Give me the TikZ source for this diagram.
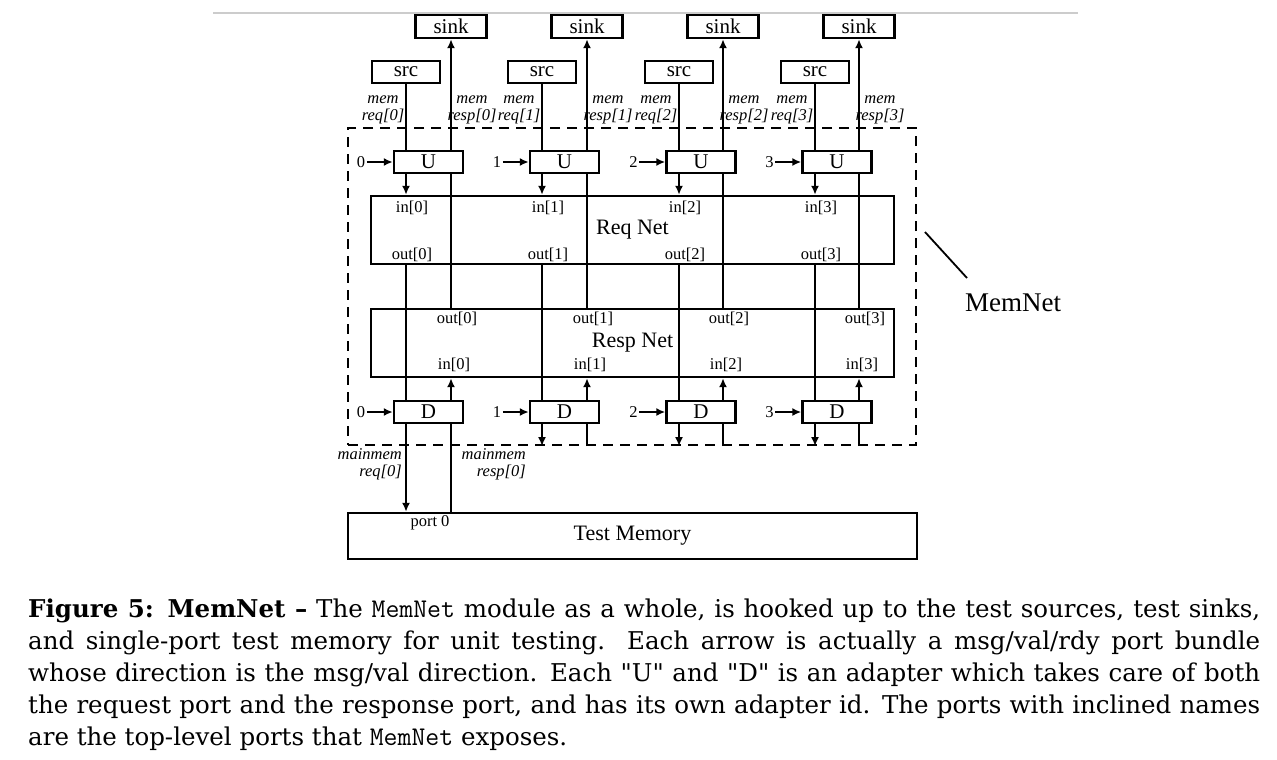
\documentclass[tikz,border=0pt]{standalone}
\usepackage{fontspec}
\newfontfamily\diag{Liberation Serif}
\newfontfamily\capfont{DejaVu Serif}[Ligatures=TeXOff]
\newcommand\mnmono{{\fontsize{27}{29}\selectfont\ttfamily MemNet}}
\usetikzlibrary{arrows.meta}
\begin{document}
\begin{tikzpicture}[x=1pt,y=-1pt,
  bx/.style={draw, line width=2.4pt, inner sep=0pt, font=\diag\fontsize{21}{21}\selectfont},
  sinkbox/.style={bx, minimum width=71pt, minimum height=23pt},
  srcbox/.style={bx, minimum width=68pt, minimum height=22pt},
  adbox/.style={bx, minimum width=69pt, minimum height=22pt},
  netbox/.style={bx, minimum width=523pt, minimum height=68pt, font=\diag\fontsize{22}{22}\selectfont},
  conn/.style={line width=2pt},
  arr/.style={conn, -{Latex[length=9pt,width=8pt]}},
  lab/.style={inner sep=0pt, font=\diag\fontsize{16.5}{17}\selectfont},
  ilab/.style={inner sep=0pt, align=center, font=\diag\itshape\fontsize{16.5}{17}\selectfont},
  numlab/.style={inner sep=1.5pt, font=\diag\fontsize{16.5}{17}\selectfont},
  captext/.style={inner sep=0pt, font=\capfont\fontsize{24.5}{29}\selectfont}
]
\useasboundingbox (0,0) rectangle (1277,760);
\fill[white] (0,0) rectangle (1277,760);

% top rule
\coordinate (ruleL) at (213,13);
\coordinate (ruleR) at (1078,13);
\draw[black!20, line width=1.5pt] (ruleL) -- (ruleR);

% MemNet dashed boundary
\node[draw, dash pattern=on 10pt off 7pt, line width=2.2pt, minimum width=568pt, minimum height=317pt, inner sep=0pt] (memnet) at (632,286.5) {};

% nets and memory
\node[netbox] (req) at (632.5,230) {Req Net};
\node[netbox] (resp) at (632.5,343) {Resp Net};
\node[bx, minimum width=569pt, minimum height=46pt, font=\diag\fontsize{22}{22}\selectfont] (mem) at (632.5,536) {Test Memory};

\foreach \i/\r/\s in {0/406/451, 1/542/587, 2/679/723, 3/815/859}{
  \node[sinkbox] (sink\i) at (\s,26.5) {sink};
  \node[srcbox] (src\i) at (\r,72) {src};
  \node[adbox] (U\i) at ({(\r+\s)/2},162) {U};
  \node[adbox] (D\i) at ({(\r+\s)/2},412) {D};
  % adapter ids
  \node[numlab, anchor=east] (uid\i) at ([xshift=-26pt]U\i.west) {\i};
  \draw[arr] (uid\i.east) -- (U\i.west);
  \node[numlab, anchor=east] (did\i) at ([xshift=-26pt]D\i.west) {\i};
  \draw[arr] (did\i.east) -- (D\i.west);
  % request path
  \draw[conn] (src\i.south) -- (src\i.south |- U\i.north);
  \draw[arr] (src\i.south |- U\i.south) -- (src\i.south |- req.north);
  \draw[conn] (src\i.south |- req.south) -- (src\i.south |- D\i.north);
  % response path
  \draw[arr] (sink\i.south |- D\i.north) -- (sink\i.south |- resp.south);
  \draw[conn] (sink\i.south |- resp.north) -- (sink\i.south |- U\i.south);
  \draw[arr] (sink\i.south |- U\i.north) -- (sink\i.south);
  % port labels
  \node[lab] (reqin\i) at ({\r+6},208) {in[\i]};
  \node[lab] (reqout\i) at ({\r+6},255) {out[\i]};
  \node[lab] (respout\i) at ({\s+6},319) {out[\i]};
  \node[lab] (respin\i) at ({\s+3},365) {in[\i]};
  % top-level port names
  \node[ilab] (mreq\i) at ({\r-23},110) {mem\\req[\i]};
  \node[ilab] (mresp\i) at ({\s+21},110) {mem\\resp[\i]};
}

% column 0 to memory
\draw[arr] (src0.south |- D0.south) -- (src0.south |- mem.north);
\draw[conn] (sink0.south |- mem.north) -- (sink0.south |- D0.south);
\foreach \i in {1,2,3}{
  \draw[arr] (src\i.south |- D\i.south) -- (src\i.south |- memnet.south);
  \draw[conn] (sink\i.south |- memnet.south) -- (sink\i.south |- D\i.south);
}
\node[ilab, align=right, anchor=east] (mmreq) at (402,464) {mainmem\\req[0]};
\node[ilab, align=right, anchor=east] (mmresp) at (526,464) {mainmem\\resp[0]};
\node[lab] (port0) at (430,523) {port 0};

% MemNet label
\coordinate (mnA) at (925,232);
\coordinate (mnB) at (967,278);
\draw[line width=1.8pt] (mnA) -- (mnB);
\node[inner sep=0pt, font=\diag\fontsize{27}{27}\selectfont] (mnlab) at (1013,303) {MemNet};

% caption
\node[captext, anchor=base west] (c1) at (28,617) {\makebox[1232pt][s]{\textbf{Figure 5: MemNet –} The \mnmono{} module as a whole, is hooked up to the test sources, test sinks,}};
\node[captext, anchor=base west] (c2) at (28,649) {\makebox[1232pt][s]{and single-port test memory for unit testing. Each arrow is actually a msg/val/rdy port bundle}};
\node[captext, anchor=base west] (c3) at (28,681) {\makebox[1232pt][s]{whose direction is the msg/val direction. Each "U" and "D" is an adapter which takes care of both}};
\node[captext, anchor=base west] (c4) at (28,713) {\makebox[1232pt][s]{the request port and the response port, and has its own adapter id. The ports with inclined names}};
\node[captext, anchor=base west] (c5) at (28,745) {are the top-level ports that \mnmono{} exposes.};
\end{tikzpicture}
\end{document}
